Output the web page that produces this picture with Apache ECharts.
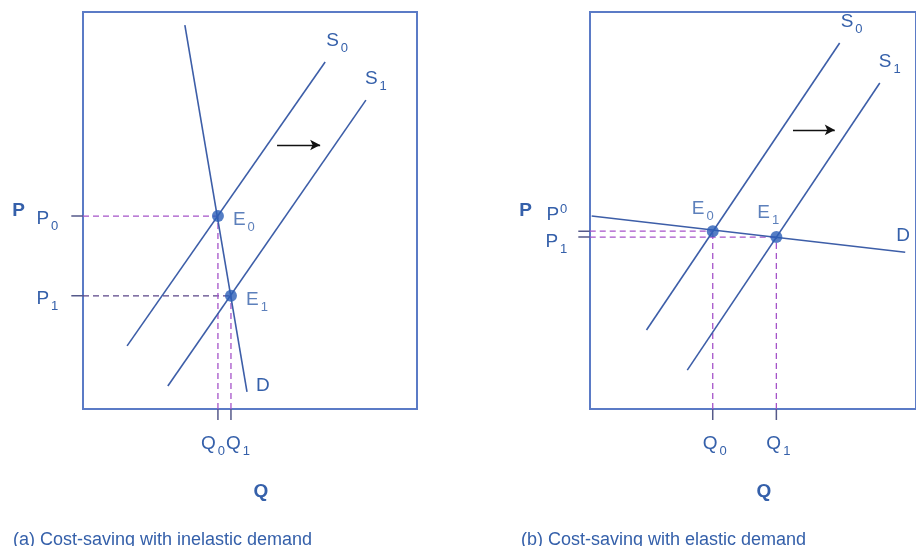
<!DOCTYPE html>
<html>
<head>
<meta charset="utf-8">
<script src="https://cdn.jsdelivr.net/npm/echarts@6/dist/echarts.min.js"></script>
<style>
  html, body { margin:0; padding:0; background:#fff; }
  #chart { width:916px; height:546px; }
</style>
</head>
<body>
<div id="chart"></div>
<script>
// panel (a): inelastic demand, units 0..100 on both axes
var aS0 = [[13.2, 15.9], [72.5, 87.4]];
var aS1 = [[25.4, 5.8], [84.7, 77.8]];
var aD  = [[30.5, 96.7], [49.1, 4.3]];
var aE  = [[40.4, 48.6], [44.3, 28.5]];
var aArrow = [[58.1, 66.5], [71.0, 66.5]];

// panel (b): elastic demand
var bS0 = [[17.4, 19.9], [76.6, 92.2]];
var bS1 = [[29.9, 9.8], [88.9, 82.1]];
var bD  = [[0.6, 48.6], [96.7, 39.5]];
var bE  = [[37.7, 44.8], [57.2, 43.3]];
var bArrow = [[62.3, 70.3], [75.1, 70.3]];

var tickLeft = -3.5;   // short ticks outside the box
var tickBottom = -2.8;

var captions = ['(a) Cost-saving with inelastic demand', '(b) Cost-saving with elastic demand'];

var lineColor = '#3d5ea8';
var boxColor = '#5b7bc6';
var textColor = '#3560aa';
var dashColor = '#a553c9';
var dotColor = '#2b5eb6';
var tickColor = '#55598a';
var fontFam = 'Liberation Sans, Arial, sans-serif';

// box geometry
var boxLefts = [83, 590], boxTop = 12, boxW = 334, boxH = 397;

var rich = {
  m: { fontSize: 19, color: textColor, fontFamily: fontFam },
  s: { fontSize: 13, color: textColor, fontFamily: fontFam, padding: [15, 0, 0, 2] },
  u: { fontSize: 13, color: textColor, fontFamily: fontFam, padding: [0, 0, 12, 1] }
};
function sub(a, b) { return '{m|' + a + '}{s|' + b + '}'; }
function sup(a, b) { return '{m|' + a + '}{u|' + b + '}'; }

function curve(name, pts, idx, lbl, pos, off) {
  return {
    type: 'line', name: name, xAxisIndex: idx, yAxisIndex: idx,
    symbol: 'circle', symbolSize: 0, showSymbol: true, silent: true,
    lineStyle: { color: lineColor, width: 1.6 },
    data: [pts[0], { value: pts[1], label: { show: !!lbl, formatter: lbl, rich: rich, position: pos, offset: off } }],
    label: { show: false }, animation: false
  };
}
// dashed guide from a point to the axis, plus a solid tick outside the box that carries the label
function guide(e, idx, horiz, lbl, pos, off, color) {
  var start = horiz ? [0, e[1]] : [e[0], 0];
  var tip = horiz ? [tickLeft, e[1]] : [e[0], tickBottom];
  return [{
    type: 'line', xAxisIndex: idx, yAxisIndex: idx, silent: true,
    symbol: 'none', lineStyle: { color: color || dashColor, width: 1.3, type: [6, 4] },
    data: [start, e], animation: false, z: 1
  }, {
    type: 'line', xAxisIndex: idx, yAxisIndex: idx, silent: true,
    symbol: 'circle', symbolSize: 0, showSymbol: true,
    lineStyle: { color: tickColor, width: 1.5 },
    data: [{ value: tip, label: { show: true, formatter: lbl, rich: rich, position: pos, offset: off } }, start],
    label: { show: false }, animation: false, z: 1
  }];
}
function dots(pts, idx, labels, offs) {
  return {
    type: 'scatter', xAxisIndex: idx, yAxisIndex: idx, symbolSize: 12, silent: true,
    itemStyle: { color: dotColor },
    data: pts.map(function (p, i) {
      return { value: p, label: { show: true, formatter: labels[i], rich: rich, position: 'right', offset: offs[i] } };
    }),
    z: 5, animation: false
  };
}
function arrow(pts, idx) {
  return {
    type: 'line', xAxisIndex: idx, yAxisIndex: idx, data: [], silent: true,
    markLine: {
      silent: true, animation: false, symbol: ['none', 'arrow'], symbolSize: [8, 10],
      lineStyle: { color: '#111', width: 1.3, type: 'solid' }, label: { show: false },
      data: [[{ coord: pts[0] }, { coord: pts[1] }]]
    }
  };
}

// grids 0,1: the visible frames; grids 2,3: same scale, widened to hold the ticks
var grids = [], xAxes = [], yAxes = [];
var hidden = { axisLine: { show: false }, axisTick: { show: false }, axisLabel: { show: false }, splitLine: { show: false } };
boxLefts.forEach(function (l, i) {
  grids.push({ left: l, top: boxTop, width: boxW, height: boxH, show: true, borderColor: boxColor, borderWidth: 2, backgroundColor: 'transparent' });
  xAxes.push(Object.assign({
    type: 'value', gridIndex: i, min: 0, max: 100, name: 'Q', nameLocation: 'middle', nameGap: 73,
    nameTextStyle: { color: textColor, fontWeight: 'bold', fontSize: 19, fontFamily: fontFam, padding: [0, 0, 0, 22] }
  }, hidden));
  yAxes.push(Object.assign({
    type: 'value', gridIndex: i, min: 0, max: 100, name: 'P', nameLocation: 'middle', nameGap: 58, nameRotate: 0,
    nameTextStyle: { color: textColor, fontWeight: 'bold', fontSize: 19, fontFamily: fontFam, padding: [10, 0, 0, 0] }
  }, hidden));
});
boxLefts.forEach(function (l, i) {
  grids.push({
    left: l + tickLeft * boxW / 100, top: boxTop,
    width: boxW * (100 - tickLeft) / 100, height: boxH * (100 - tickBottom) / 100
  });
  xAxes.push(Object.assign({ type: 'value', gridIndex: 2 + i, min: tickLeft, max: 100 }, hidden));
  yAxes.push(Object.assign({ type: 'value', gridIndex: 2 + i, min: tickBottom, max: 100 }, hidden));
});

var series = [].concat(
  // panel (a)
  guide(aE[0], 2, true, sub('P', '0'), 'left', [-8, 3]),
  guide(aE[1], 2, true, sub('P', '1'), 'left', [-8, 3], '#5a4488'),
  guide(aE[0], 2, false, sub('Q', '0'), 'bottom', [-5, 5]),
  guide(aE[1], 2, false, sub('Q', '1'), 'bottom', [7, 5]),
  [
    curve('S0', aS0, 2, sub('S', '0'), 'top', [12, -2]),
    curve('S1', aS1, 2, sub('S', '1'), 'top', [10, -2]),
    curve('D', aD, 2, '{m|D}', 'right', [4, -6]),
    dots(aE, 2, [sub('E', '0'), sub('E', '1')], [[4, 4], [4, 4]]),
    arrow(aArrow, 2)
  ],
  // panel (b)
  guide(bE[0], 3, true, sup('P', '0'), 'left', [-6, -16]),
  guide(bE[1], 3, true, sub('P', '1'), 'left', [-6, 5]),
  guide(bE[0], 3, false, sub('Q', '0'), 'bottom', [2, 5]),
  guide(bE[1], 3, false, sub('Q', '1'), 'bottom', [2, 5]),
  [
    curve('S0', bS0, 3, sub('S', '0'), 'top', [12, -2]),
    curve('S1', bS1, 3, sub('S', '1'), 'top', [10, -2]),
    curve('D', bD, 3, '{m|D}', 'right', [-14, -16]),
    dots(bE, 3, [sub('E', '0'), sub('E', '1')], [[-32, -22], [-30, -24]]),
    arrow(bArrow, 3)
  ]
);

var chart = echarts.init(document.getElementById('chart'));
chart.setOption({
  backgroundColor: '#fff',
  animation: false,
  title: [
    { text: captions[0], left: 8, top: 526, textStyle: { color: textColor, fontSize: 18, fontWeight: 'normal', fontFamily: fontFam } },
    { text: captions[1], left: 516, top: 526, textStyle: { color: textColor, fontSize: 18, fontWeight: 'normal', fontFamily: fontFam } }
  ],
  grid: grids,
  xAxis: xAxes,
  yAxis: yAxes,
  series: series
});
</script>
</body>
</html>
